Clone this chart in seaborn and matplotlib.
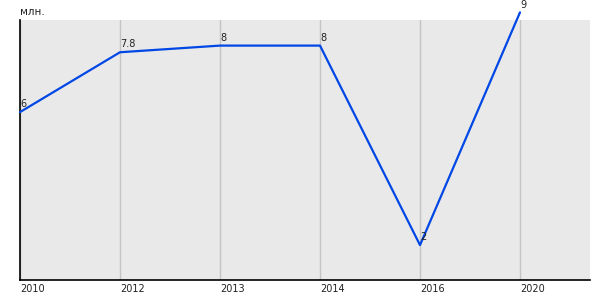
import matplotlib
matplotlib.use("Agg")
import matplotlib.pyplot as plt
import seaborn as sns
import pandas as pd

years = ["2010", "2012", "2013", "2014", "2016", "2020"]
values = [6, 7.8, 8, 8, 2, 9]
value_labels = ["6", "7.8", "8", "8", "2", "9"]
unit = "млн."

sns.set_theme(style="white")
plt.rcParams['font.family'] = ['DejaVu Sans']

df = pd.DataFrame({"pos": list(range(len(years))), "value": values})

fig = plt.figure(figsize=(6, 3), dpi=100)
ax = fig.add_axes([20/600, 20/300, 570/600, 260/300])
ax.set_facecolor("#e9e9e9")

sns.lineplot(data=df, x="pos", y="value", ax=ax, color="#0047e6", linewidth=1.6,
             clip_on=False, zorder=3)

ax.set_xlim(0, 5.7)
ax.set_ylim(0.95, 8.77)
ax.set_xticks(df["pos"])
ax.set_xticklabels(years, fontsize=7, ha="left", color="#222222")
ax.tick_params(axis="x", length=0, pad=3)
ax.set_yticks([])
ax.grid(axis="x", color="#c4c4c4", linewidth=1)
ax.set_axisbelow(True)
ax.set_xlabel("")
ax.set_ylabel("")
for s in ["top", "right"]:
    ax.spines[s].set_visible(False)
for s in ["left", "bottom"]:
    ax.spines[s].set_color("black")
    ax.spines[s].set_linewidth(1.2)

for p, v, t in zip(df["pos"], values, value_labels):
    ax.annotate(t, (p, v), xytext=(0, 2), textcoords="offset points",
                ha="left", va="bottom", fontsize=7, color="#222222",
                annotation_clip=False, zorder=4)

fig.text(20/600, 1 - 12/300, unit, fontsize=7.5, ha="left", va="center", color="#222222")

fig.savefig("out.png", dpi=100)
